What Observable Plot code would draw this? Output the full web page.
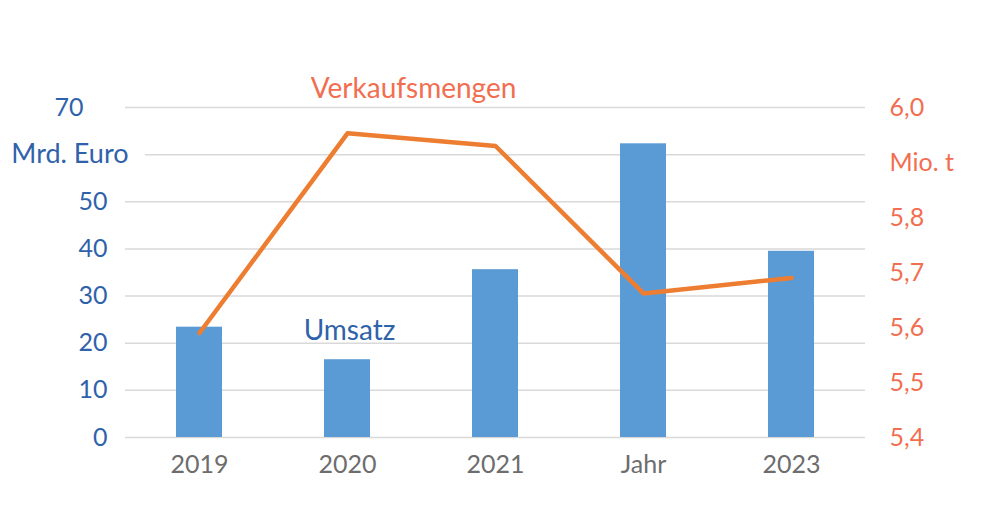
<!DOCTYPE html>
<html>
<head>
<meta charset="utf-8">
<script src="https://cdn.jsdelivr.net/npm/d3@7"></script>
<script src="https://cdn.jsdelivr.net/npm/@observablehq/plot@0.6"></script>
<style>
  body { margin: 0; background: #fff; }
  #chart svg { display: block; }
</style>
</head>
<body>
<div id="chart"></div>
<script>
const years = ["2019", "2020", "2021", "Jahr", "2023"];
const umsatz = [23.4, 16.5, 35.6, 62.3, 39.5];            // Mrd. Euro
const mengen = [5.59, 5.953, 5.93, 5.662, 5.69];          // Mio. t
const leftTicks = [0, 10, 20, 30, 40, 50, 60, 70];
const leftTickLabels = ["0", "10", "20", "30", "40", "50", "Mrd. Euro", "70"];
const rightTicks = [5.4, 5.5, 5.6, 5.7, 5.8, 5.9, 6.0];
const rightTickLabels = ["5,4", "5,5", "5,6", "5,7", "5,8", "Mio. t", "6,0"];

const rMin = 5.4, rMax = 6.0, lMax = 70;
const toLeft = v => (v - rMin) / (rMax - rMin) * lMax;

const barData = years.map((y, i) => ({year: y, value: umsatz[i]}));
const lineData = years.map((y, i) => ({year: y, value: toLeft(mengen[i])}));
const leftData = leftTicks.map((t, i) => ({v: t, label: leftTickLabels[i]}));
const rightData = rightTicks.map((t, i) => ({v: toLeft(t), label: rightTickLabels[i]}));

const blue = "#5B9BD5", orange = "#ED7D31";
const leftColor = "#2F62AB", rightColor = "#F26E50", grid = "#D9D9D9";

const chart = Plot.plot({
  width: 1000,
  height: 528,
  marginLeft: 125,
  marginRight: 135,
  marginTop: 107,
  marginBottom: 91,
  style: {fontFamily: "Lato, 'Open Sans', sans-serif", background: "#fff"},
  x: {domain: years, paddingInner: 0, paddingOuter: 0, axis: null},
  y: {domain: [0, lMax], axis: null},
  marks: [
    Plot.ruleY(leftData.filter(d => d.label !== "Mrd. Euro"), {y: "v", stroke: grid, strokeWidth: 1.5}),
    Plot.ruleY(leftData.filter(d => d.label === "Mrd. Euro"), {y: "v", stroke: grid, strokeWidth: 1.5, insetLeft: 20}),
    Plot.barY(barData, {x: "year", y: "value", fill: blue, insetLeft: 51, insetRight: 51}),
    Plot.line(lineData, {x: "year", y: "value", stroke: orange, strokeWidth: 4.5, strokeLinecap: "round", strokeLinejoin: "round"}),
    // x axis labels
    Plot.text(years, {x: d => d, frameAnchor: "bottom", dy: 35, text: d => d, fill: "#6D6D6D", fontSize: 25}),
    // left axis labels
    Plot.text(leftData.filter(d => !["Mrd. Euro", "70"].includes(d.label)), {y: "v", text: "label", frameAnchor: "left", textAnchor: "end", dx: -18, fill: leftColor, fontSize: 25}),
    Plot.text(leftData.filter(d => d.label === "70"), {y: "v", text: "label", frameAnchor: "left", textAnchor: "end", dx: -42, fill: leftColor, fontSize: 25}),
    Plot.text(leftData.filter(d => d.label === "Mrd. Euro"), {y: "v", text: "label", frameAnchor: "left", textAnchor: "end", dx: 3, fill: leftColor, fontSize: 27}),
    // right axis labels
    Plot.text(rightData, {y: "v", text: "label", frameAnchor: "right", textAnchor: "start", dx: 24, fill: rightColor, fontSize: 25}),
    // series labels
    Plot.text([{x: "2020", y: 74, t: "Verkaufsmengen"}], {x: "x", y: "y", text: "t", dx: 66, fill: rightColor, fontSize: 28}),
    Plot.text([{x: "2020", y: 22.5, t: "Umsatz"}], {x: "x", y: "y", text: "t", dx: 2, fill: leftColor, fontSize: 28})
  ]
});
document.getElementById("chart").appendChild(chart);
</script>
</body>
</html>
